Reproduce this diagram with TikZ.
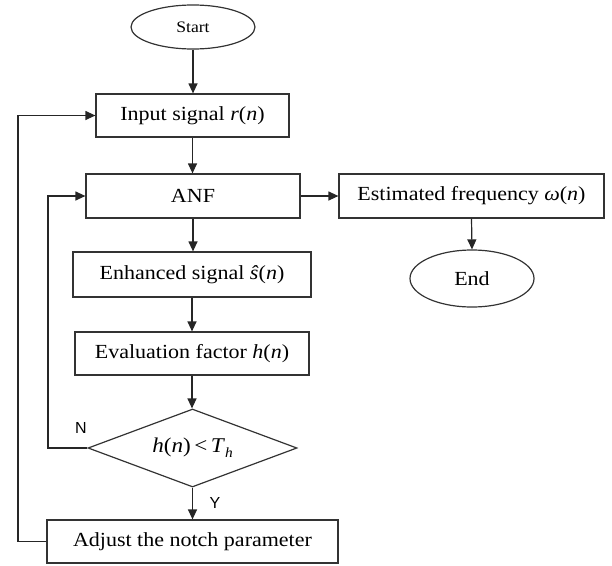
\documentclass[tikz,border=0pt]{standalone}
\usepackage{fontspec}
\setmainfont{Liberation Serif}
\newfontfamily\boxfont{Liberation Serif}[FakeStretch=1.1]
\newfontfamily\labfont{Liberation Sans}
\usetikzlibrary{arrows.meta,shapes.geometric}
\begin{document}
\begin{tikzpicture}[x=1pt,y=-1pt,
  line width=1.2pt,
  every node/.style={draw=black!80, line width=1.2pt, inner sep=0pt, align=center},
  proc/.style={rectangle, font=\boxfont\fontsize{20}{24}\selectfont},
  term/.style={ellipse, font=\boxfont\fontsize{20}{24}\selectfont},
  decide/.style={diamond, aspect=2.68, font=\boxfont\fontsize{21}{25}\selectfont},
  lab/.style={draw=none, font=\labfont\fontsize{16}{19}\selectfont},
  arr/.style={draw=black!85, -{Triangle[length=10pt,width=9pt]}}]
\useasboundingbox (0,0) rectangle (612,565);
% nodes
\node[term, minimum width=124pt, minimum height=44pt, font=\boxfont\fontsize{16}{19}\selectfont] (start) at (193,27) {Start};
\node[proc, minimum width=193pt, minimum height=43pt] (input) at (192.5,115.5) {Input signal \textit{r}(\textit{n})};
\node[proc, minimum width=214pt, minimum height=44pt] (anf) at (193,196) {ANF};
\node[proc, minimum width=265pt, minimum height=44pt] (est) at (471.5,196) {Estimated frequency \textit{ω}(\textit{n})};
\node[term, minimum width=124pt, minimum height=57pt] (end) at (472,278.5) {End};
\node[proc, minimum width=238pt, minimum height=45pt] (enh) at (192,274.5) {Enhanced signal \textit{ŝ}(\textit{n})};
\node[proc, minimum width=234pt, minimum height=43pt] (eval) at (192,353.5) {Evaluation factor \textit{h}(\textit{n})};
\node[decide, minimum width=209pt, minimum height=78pt] (dec) at (192.5,448) {\textit{h}(\textit{n})\,<\,\textit{T}\raisebox{-0.5ex}{\fontsize{14}{16}\selectfont\textit{h}}};
\node[proc, minimum width=291pt, minimum height=43pt] (adj) at (192.5,541.5) {Adjust the notch parameter};
\node[lab] (nlab) at (81,428) {N};
\node[lab] (ylab) at (215,503) {Y};
\coordinate (nl) at (48,448);
\coordinate (ol) at (18,541.5);
% connectors
\draw[arr] (start.south) -- (start.south |- input.north);
\draw[arr] (input.south) -- (input.south |- anf.north);
\draw[arr] (anf.south) -- (anf.south |- enh.north);
\draw[arr] (anf.east) -- (est.west);
\draw[arr] (est.south) -- (end.north);
\draw[arr] (enh.south) -- (enh.south |- eval.north);
\draw[arr] (eval.south) -- (eval.south |- dec.north);
\draw[arr] (dec.south) -- (dec.south |- adj.north);
\draw[arr] (dec.west) -- (nl) |- (anf.west);
\draw[arr] (adj.west) -- (ol) |- (input.west);
\end{tikzpicture}
\end{document}
